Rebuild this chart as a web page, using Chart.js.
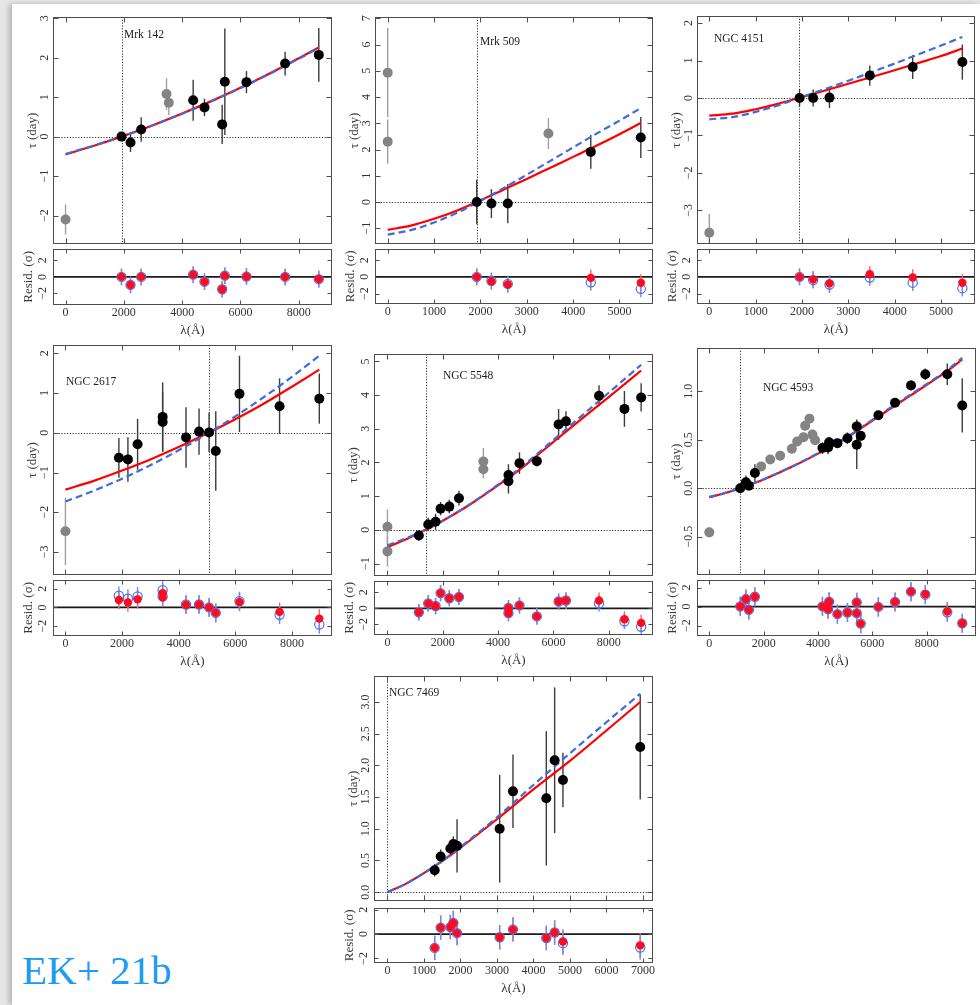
<!DOCTYPE html>
<html><head><meta charset="utf-8"><title>EK+ 21b</title>
<script src="https://cdn.jsdelivr.net/npm/chart.js@4.4.1/dist/chart.umd.min.js"></script>
<style>
html,body{margin:0;padding:0;}
body{width:980px;height:1005px;position:relative;overflow:hidden;background:#e6e6e6;}
#page{position:absolute;left:12px;top:4px;width:968px;height:1001px;background:#fff;box-shadow:-3px 0 5px rgba(0,0,0,0.22);}
canvas{position:absolute;}
#tag{position:absolute;left:22px;top:950px;font-family:"Liberation Serif",serif;font-size:41px;line-height:41px;color:#1c9bf0;white-space:nowrap;}
</style></head><body>
<div id="page"></div>
<div id="tag">EK+ 21b</div>
<script>
// ------------------------------------------------------------------ DATA
const xTicks2k = [0, 2000, 4000, 6000, 8000];
const xTicks1k5 = [0, 1000, 2000, 3000, 4000, 5000];
const xTicks1k7 = [0, 1000, 2000, 3000, 4000, 5000, 6000, 7000];
const residTicks = [-2, 0, 2];
const residErr = 1; // residuals are expressed in units of sigma

// Mrk 142
const mrk142YTicks = [-2, -1, 0, 1, 2, 3];
const mrk142Lam = [1920, 2229, 2595, 4378, 4766, 5372, 5464, 6206, 7532, 8687];
const mrk142Tau = [0.0, -0.15, 0.18, 0.92, 0.74, 0.31, 1.39, 1.38, 1.85, 2.07];
const mrk142Err = [0.1, 0.24, 0.31, 0.52, 0.22, 0.5, 1.35, 0.28, 0.3, 0.68];
const mrk142GrayLam = [0, 3463, 3543];
const mrk142GrayTau = [-2.1, 1.08, 0.86];
const mrk142GrayErr = [0.38, 0.4, 0.32];
const mrk142CurveLam = [0, 1000, 1920, 3000, 4000, 5000, 6000, 7000, 8000, 8687];
const mrk142Red  = [-0.45, -0.226, 0, 0.29, 0.584, 0.899, 1.237, 1.599, 1.983, 2.26];
const mrk142Blue = [-0.44, -0.22, 0, 0.288, 0.58, 0.893, 1.229, 1.59, 1.972, 2.25];
const mrk142ResRed  = [0.0, -0.97, 0.0, 0.27, -0.58, -1.5, 0.15, 0.04, 0.0, -0.27];
const mrk142ResBlue = [0.0, -0.97, 0.0, 0.27, -0.58, -1.5, 0.15, 0.04, 0.0, -0.27];
const mrk142Ref = 1920;

// Mrk 509
const mrk509YTicks = [-1, 0, 1, 2, 3, 4, 5, 6, 7];
const mrk509Lam = [1921, 2237, 2590, 4381, 5460];
const mrk509Tau = [0.0, -0.06, -0.06, 1.91, 2.46];
const mrk509Err = [0.85, 0.55, 0.75, 0.64, 0.78];
const mrk509GrayLam = [0, 0, 3467];
const mrk509GrayTau = [4.93, 2.3, 2.61];
const mrk509GrayErr = [1.7, 0.84, 0.59];
const mrk509CurveLam = [0, 500, 1000, 1500, 1921, 2500, 3000, 3500, 4000, 4500, 5000, 5460];
const mrk509Red  = [-1.06, -0.9, -0.64, -0.32, 0, 0.47, 0.88, 1.3, 1.72, 2.14, 2.58, 3.01];
const mrk509Blue = [-1.24, -1.07, -0.78, -0.41, -0.03, 0.53, 1.04, 1.56, 2.08, 2.6, 3.1, 3.58];
const mrk509ResRed  = [0.0, -0.54, -0.9, -0.12, -0.7];
const mrk509ResBlue = [0.0, -0.47, -0.85, -0.66, -1.44];
const mrk509Ref = 1921;

// NGC 4151
const n4151YTicks = [-3, -2, -1, 0, 1, 2];
const n4151Lam = [1947, 2241, 2593, 3463, 4389, 5460];
const n4151Tau = [0.0, 0.0, 0.01, 0.6, 0.83, 0.96];
const n4151Err = [0.24, 0.23, 0.28, 0.27, 0.32, 0.47];
const n4151GrayLam = [0];
const n4151GrayTau = [-3.6];
const n4151GrayErr = [0.5];
const n4151CurveLam = [0, 500, 1000, 1500, 1930, 2500, 3000, 3500, 4000, 4500, 5000, 5460];
const n4151Red  = [-0.47, -0.42, -0.3, -0.15, 0, 0.2, 0.38, 0.56, 0.74, 0.93, 1.12, 1.32];
const n4151Blue = [-0.57, -0.51, -0.37, -0.19, 0, 0.24, 0.46, 0.69, 0.92, 1.16, 1.4, 1.63];
const n4151ResRed  = [0.0, -0.3, -0.78, 0.31, -0.08, -0.7];
const n4151ResBlue = [0.0, -0.39, -0.93, -0.08, -0.7, -1.36];
const n4151Ref = 1930;

// NGC 2617
const n2617YTicks = [-3, -2, -1, 0, 1, 2];
const n2617Lam = [1888, 2207, 2549, 3434, 3434, 4260, 4720, 5074, 5310, 6148, 7564, 8968];
const n2617Tau = [-0.63, -0.67, -0.29, 0.4, 0.27, -0.12, 0.03, 0.01, -0.46, 0.98, 0.67, 0.86];
const n2617Err = [0.5, 0.56, 0.64, 0.87, 0.75, 0.76, 0.58, 0.5, 1.0, 0.96, 0.7, 0.63];
const n2617GrayLam = [0];
const n2617GrayTau = [-2.48];
const n2617GrayErr = [0.85];
const n2617CurveLam = [0, 1000, 2000, 3000, 4000, 5000, 6000, 7000, 8000, 8968];
const n2617Red  = [-1.43, -1.21, -0.95, -0.67, -0.36, -0.02, 0.34, 0.73, 1.16, 1.59];
const n2617Blue = [-1.73, -1.46, -1.155, -0.815, -0.44, -0.03, 0.414, 0.894, 1.408, 1.94];
const n2617ResRed  = [0.79, 0.52, 0.86, 1.52, 1.07, 0.28, 0.31, 0.0, -0.59, 0.59, -0.48, -1.2];
const n2617ResBlue = [1.24, 0.93, 1.17, 1.83, 1.17, 0.31, 0.31, 0.0, -0.59, 0.66, -0.79, -1.83];
const n2617Ref = 5074;

// NGC 5548
const n5548YTicks = [-1, 0, 1, 2, 3, 4, 5];
const n5548Lam = [1136, 1474, 1740, 1921, 2236, 2586, 4375, 4375, 4774, 5402, 6188, 6454, 7650, 8568, 9173];
const n5548Tau = [-0.17, 0.16, 0.24, 0.63, 0.69, 0.94, 1.44, 1.63, 1.98, 2.04, 3.13, 3.22, 3.98, 3.59, 3.93];
const n5548Err = [0.15, 0.2, 0.24, 0.2, 0.2, 0.22, 0.36, 0.32, 0.32, 0.15, 0.46, 0.3, 0.31, 0.53, 0.42];
const n5548GrayLam = [0, 0, 3468, 3468];
const n5548GrayTau = [0.09, -0.64, 2.03, 1.8];
const n5548GrayErr = [0.52, 0.45, 0.4, 0.27];
const n5548CurveLam = [0, 700, 1378, 2000, 3000, 4375, 5000, 6188, 7000, 8000, 9173];
const n5548Red  = [-0.51, -0.27, 0, 0.27, 0.76, 1.54, 1.93, 2.74, 3.28, 3.94, 4.73];
const n5548Blue = [-0.46, -0.24, 0, 0.27, 0.77, 1.57, 1.97, 2.8, 3.37, 4.07, 4.9];
const n5548ResRed  = [-0.48, 0.6, 0.28, 1.88, 1.24, 1.4, -0.6, 0.04, 0.36, -1.0, 0.84, 0.96, 0.96, -1.36, -1.8];
const n5548ResBlue = [-0.5, 0.6, 0.28, 1.88, 1.24, 1.4, -0.6, 0.04, 0.36, -1.0, 0.84, 0.96, 0.6, -1.6, -2.28];
const n5548Ref = 1378;

// NGC 4593
const n4593YTicks = [-0.5, 0, 0.5, 1.0];
const n4593Lam = [1139, 1348, 1458, 1678, 4165, 4373, 4410, 4716, 5084, 5427, 5427, 5574, 6223, 6836, 7424, 7950, 8759, 9310];
const n4593Tau = [0.0, 0.062, 0.025, 0.157, 0.414, 0.421, 0.475, 0.465, 0.516, 0.638, 0.448, 0.54, 0.753, 0.881, 1.061, 1.176, 1.176, 0.854];
const n4593Err = [0.02, 0.07, 0.04, 0.09, 0.06, 0.07, 0.05, 0.04, 0.06, 0.07, 0.25, 0.05, 0.04, 0.04, 0.05, 0.06, 0.11, 0.28];
const n4593GrayLam = [0, 1911, 2242, 2609, 3038, 3234, 3467, 3528, 3687, 3798, 3896];
const n4593GrayTau = [-0.456, 0.225, 0.296, 0.336, 0.407, 0.482, 0.526, 0.644, 0.716, 0.553, 0.495];
const n4593GrayErr = [0.05, 0.03, 0.04, 0.05, 0.05, 0.05, 0.05, 0.05, 0.05, 0.05, 0.05];
const n4593CurveLam = [0, 500, 1139, 2000, 3000, 4165, 5000, 6223, 7424, 8759, 9310];
const n4593Red  = [-0.094, -0.058, 0, 0.09, 0.215, 0.38, 0.51, 0.74, 0.96, 1.21, 1.33];
const n4593Blue = [-0.09, -0.055, 0.002, 0.092, 0.218, 0.385, 0.515, 0.748, 0.97, 1.22, 1.345];
const n4593ResRed  = [0.03, 0.79, -0.34, 1.03, 0.03, -0.27, 0.51, -0.79, -0.62, 0.44, -0.68, -1.78, -0.03, 0.48, 1.57, 1.3, -0.51, -1.74];
const n4593ResBlue = [0.03, 0.79, -0.34, 1.03, 0.03, -0.27, 0.51, -0.79, -0.62, 0.44, -0.68, -1.78, -0.03, 0.48, 1.57, 1.25, -0.6, -1.74];
const n4593Ref = 1139;

// NGC 7469
const n7469YTicks = [0, 0.5, 1.0, 1.5, 2.0, 2.5, 3.0];
const n7469Lam = [1296, 1460, 1725, 1807, 1908, 3076, 3441, 4354, 4582, 4810, 6927];
const n7469Tau = [0.346, 0.563, 0.687, 0.76, 0.73, 1.0, 1.59, 1.48, 2.08, 1.77, 2.29];
const n7469Err = [0.1, 0.11, 0.12, 0.12, 0.42, 0.85, 0.58, 1.06, 1.15, 0.43, 0.83];
const n7469GrayLam = [];
const n7469GrayTau = [];
const n7469GrayErr = [];
const n7469CurveLam = [0, 500, 1000, 1500, 2000, 3000, 4000, 5000, 6000, 6927];
const n7469Red  = [0, 0.13, 0.3, 0.49, 0.7, 1.15, 1.62, 2.07, 2.55, 3.0];
const n7469Blue = [0, 0.13, 0.3, 0.49, 0.71, 1.18, 1.69, 2.19, 2.68, 3.13];
const n7469ResRed  = [-1.13, 0.53, 0.58, 0.92, 0.08, -0.26, 0.39, -0.32, 0.13, -0.6, -0.92];
const n7469ResBlue = [-1.13, 0.53, 0.58, 0.92, 0.08, -0.26, 0.39, -0.32, 0.13, -0.74, -1.1];
const n7469Ref = 0;

// ------------------------------------------------------------------ LAYOUT
const panels = [
  { name:'Mrk 142', lam:mrk142Lam, tau:mrk142Tau, err:mrk142Err, gLam:mrk142GrayLam, gTau:mrk142GrayTau, gErr:mrk142GrayErr,
    cLam:mrk142CurveLam, red:mrk142Red, blue:mrk142Blue, rRed:mrk142ResRed, rBlue:mrk142ResBlue, ref:mrk142Ref,
    xt:xTicks2k, yt:mrk142YTicks, dec:0, box:{L:53,R:332,T:17,MB:247,RT:247,RB:305}, xr:[-430,9140], yr:[-2.72,3.03], rr:[-3.4,3.4], lab:[124,35] },
  { name:'Mrk 509', lam:mrk509Lam, tau:mrk509Tau, err:mrk509Err, gLam:mrk509GrayLam, gTau:mrk509GrayTau, gErr:mrk509GrayErr,
    cLam:mrk509CurveLam, red:mrk509Red, blue:mrk509Blue, rRed:mrk509ResRed, rBlue:mrk509ResBlue, ref:mrk509Ref,
    xt:xTicks1k5, yt:mrk509YTicks, dec:0, box:{L:375,R:653,T:17,MB:247,RT:247,RB:304}, xr:[-274,5723], yr:[-1.6,7.05], rr:[-3.26,3.37], lab:[480,42] },
  { name:'NGC 4151', lam:n4151Lam, tau:n4151Tau, err:n4151Err, gLam:n4151GrayLam, gTau:n4151GrayTau, gErr:n4151GrayErr,
    cLam:n4151CurveLam, red:n4151Red, blue:n4151Blue, rRed:n4151ResRed, rBlue:n4151ResBlue, ref:n4151Ref,
    xt:xTicks1k5, yt:n4151YTicks, dec:0, box:{L:697,R:975,T:16,MB:247,RT:247,RB:304}, xr:[-265,5733], yr:[-3.9,2.19], rr:[-3.26,3.37], lab:[714,39] },
  { name:'NGC 2617', lam:n2617Lam, tau:n2617Tau, err:n2617Err, gLam:n2617GrayLam, gTau:n2617GrayTau, gErr:n2617GrayErr,
    cLam:n2617CurveLam, red:n2617Red, blue:n2617Blue, rRed:n2617ResRed, rBlue:n2617ResBlue, ref:n2617Ref,
    xt:xTicks2k, yt:n2617YTicks, dec:0, box:{L:53,R:332,T:345,MB:578,RT:578,RB:636}, xr:[-439,9416], yr:[-3.58,2.21], rr:[-3.06,2.95], lab:[66,382] },
  { name:'NGC 5548', lam:n5548Lam, tau:n5548Tau, err:n5548Err, gLam:n5548GrayLam, gTau:n5548GrayTau, gErr:n5548GrayErr,
    cLam:n5548CurveLam, red:n5548Red, blue:n5548Blue, rRed:n5548ResRed, rBlue:n5548ResBlue, ref:n5548Ref,
    xt:xTicks2k, yt:n5548YTicks, dec:0, box:{L:374,R:653,T:354,MB:579,RT:579,RB:635}, xr:[-486,9601], yr:[-1.37,5.22], rr:[-3.3,3.4], lab:[443,376] },
  { name:'NGC 4593', lam:n4593Lam, tau:n4593Tau, err:n4593Err, gLam:n4593GrayLam, gTau:n4593GrayTau, gErr:n4593GrayErr,
    cLam:n4593CurveLam, red:n4593Red, blue:n4593Blue, rRed:n4593ResRed, rBlue:n4593ResBlue, ref:n4593Ref,
    xt:xTicks2k, yt:n4593YTicks, dec:1, box:{L:697,R:976,T:348,MB:578,RT:578,RB:636}, xr:[-452,9816], yr:[-0.896,1.447], rr:[-3.08,2.81], lab:[763,388] },
  { name:'NGC 7469', lam:n7469Lam, tau:n7469Tau, err:n7469Err, gLam:n7469GrayLam, gTau:n7469GrayTau, gErr:n7469GrayErr,
    cLam:n7469CurveLam, red:n7469Red, blue:n7469Blue, rRed:n7469ResRed, rBlue:n7469ResBlue, ref:n7469Ref,
    xt:xTicks1k7, yt:n7469YTicks, dec:1, box:{L:374,R:653,T:676,MB:904,RT:906,RB:963}, xr:[-367,7277], yr:[-0.14,3.41], rr:[-2.37,2.16], lab:[389,693] }
];

// ------------------------------------------------------------------ RENDERING
const FONT = '"Liberation Serif", "Times New Roman", serif';
Chart.defaults.font.family = FONT;
Chart.defaults.color = '#333';
const WY = 32, PR = 14, PT = 8, PB = 2, PT2 = 4, HX = 34, TICKFONT = 12;

function fmt(v, dec) { const s = Math.abs(v).toFixed(dec); return (v < -1e-9 ? '\u2212' : '') + s; }
function pts(xs, ys) { return xs.map((x, i) => ({ x: x, y: ys[i] })); }
const mctx = document.createElement('canvas').getContext('2d');
function widest(labels) { mctx.font = TICKFONT + 'px ' + FONT; return Math.max(...labels.map(t => mctx.measureText(t).width)); }

function makeCanvas(left, top, w, h) {
  const c = document.createElement('canvas');
  c.width = w; c.height = h;
  c.style.left = left + 'px'; c.style.top = top + 'px';
  c.style.width = w + 'px'; c.style.height = h + 'px';
  document.body.appendChild(c);
  return c;
}

function seg(ctx, x1, y1, x2, y2) { ctx.beginPath(); ctx.moveTo(x1, y1); ctx.lineTo(x2, y2); ctx.stroke(); }

const deco = {
  id: 'deco',
  beforeDatasetsDraw(chart, args, o) {
    const ctx = chart.ctx, a = chart.chartArea, xs = chart.scales.x, ys = chart.scales.y;
    ctx.save();
    ctx.beginPath(); ctx.rect(a.left, a.top, a.right - a.left, a.bottom - a.top); ctx.clip();
    if (o.zeroDotted) {
      const y = Math.round(ys.getPixelForValue(0)) + 0.5;
      ctx.strokeStyle = '#333'; ctx.lineWidth = 1; ctx.setLineDash([1.2, 1.6]);
      seg(ctx, a.left, y, a.right, y);
    }
    if (typeof o.ref === 'number') {
      const x = Math.round(xs.getPixelForValue(o.ref)) + 0.5;
      ctx.strokeStyle = '#333'; ctx.lineWidth = 1; ctx.setLineDash([1.2, 1.6]);
      seg(ctx, x, a.top, x, a.bottom);
    }
    ctx.setLineDash([]);
    if (o.zeroSolid) {
      const y = ys.getPixelForValue(0);
      ctx.strokeStyle = '#1a1a1a'; ctx.lineWidth = 1.8;
      seg(ctx, a.left, y, a.right, y);
    }
    const list = chart.data.datasets.filter(d => d.errors !== undefined).slice().sort((p, q) => p.errZ - q.errZ);
    for (const d of list) {
      ctx.strokeStyle = d.errColor; ctx.lineWidth = d.errWidth || 1.4;
      d.data.forEach((pt, k) => {
        const e = Array.isArray(d.errors) ? d.errors[k] : d.errors;
        const x = xs.getPixelForValue(pt.x);
        seg(ctx, x, ys.getPixelForValue(pt.y - e), x, ys.getPixelForValue(pt.y + e));
      });
    }
    ctx.restore();
  },
  afterDraw(chart, args, o) {
    const ctx = chart.ctx, a = chart.chartArea, xs = chart.scales.x, ys = chart.scales.y;
    ctx.save();
    ctx.strokeStyle = '#4d4d4d'; ctx.lineWidth = 1; ctx.setLineDash([]);
    const L = Math.round(a.left) + 0.5, R = Math.round(a.right) - 0.5, T = Math.round(a.top) + 0.5, B = Math.round(a.bottom) - 0.5;
    ctx.strokeRect(L, T, R - L, B - T);
    const tl = o.tl;
    ctx.beginPath();
    for (const v of o.xt) { const x = Math.round(xs.getPixelForValue(v)) + 0.5; ctx.moveTo(x, B); ctx.lineTo(x, B - tl); ctx.moveTo(x, T); ctx.lineTo(x, T + tl); }
    for (const v of o.yt) { const y = Math.round(ys.getPixelForValue(v)) + 0.5; ctx.moveTo(L, y); ctx.lineTo(L + tl, y); ctx.moveTo(R, y); ctx.lineTo(R - tl, y); }
    ctx.stroke();
    if (o.labelText) {
      ctx.fillStyle = '#222'; ctx.font = '11.5px ' + FONT; ctx.textBaseline = 'middle'; ctx.textAlign = 'left';
      ctx.fillText(o.labelText, o.labelX, o.labelY);
    }
    ctx.restore();
  }
};

function yAxis(range, ticks, dec, title, titlePad, dist) {
  const w = widest(ticks.map(v => fmt(v, dec)));
  return {
    type: 'linear', position: 'left', min: range[0], max: range[1],
    afterBuildTicks: s => { s.ticks = ticks.map(v => ({ value: v })); },
    afterFit: s => { s.width = WY; s.paddingTop = 0; s.paddingBottom = 0; },
    grid: { display: false, drawTicks: false }, border: { display: false },
    ticks: { minRotation: 90, maxRotation: 90, crossAlign: 'center', padding: dist - w / 2,
             font: { size: TICKFONT }, color: '#333', callback: v => fmt(v, dec) },
    title: { display: true, text: title, font: { size: 13 }, color: '#3a3a3a', padding: { top: titlePad, bottom: 0 } }
  };
}

function xAxis(range, ticks) {
  return {
    type: 'linear', position: 'bottom', min: range[0], max: range[1],
    afterBuildTicks: s => { s.ticks = ticks.map(v => ({ value: v })); },
    afterFit: s => { s.height = HX; s.paddingLeft = 0; s.paddingRight = 0; },
    grid: { display: false, drawTicks: false }, border: { display: false },
    ticks: { padding: 1, font: { size: TICKFONT }, color: '#333', minRotation: 0, maxRotation: 0, autoSkip: false, callback: v => String(v) },
    title: { display: true, text: 'λ(Å)', font: { size: 13 }, color: '#333', padding: { top: 0, bottom: 1 } }
  };
}

function build(p) {
  const b = p.box;
  const left = b.L - WY, w = WY + (b.R - b.L) + PR;
  const topMain = b.T - PT;
  const c1 = makeCanvas(left, topMain, w, PT + (b.MB - b.T) + PB);
  new Chart(c1, {
    type: 'scatter',
    data: { datasets: [
      { type: 'scatter', data: pts(p.lam, p.tau), errors: p.err, errColor: '#3c3c3c', errZ: 1,
        backgroundColor: '#000', borderWidth: 0, pointRadius: 5, order: 1 },
      { type: 'scatter', data: pts(p.gLam, p.gTau), errors: p.gErr, errColor: '#a0a0a0', errZ: 0,
        backgroundColor: '#848484', borderWidth: 0, pointRadius: 5, order: 2 },
      { type: 'line', data: pts(p.cLam, p.blue), borderColor: '#3d6ce0', borderWidth: 2.2, borderDash: [7, 4],
        pointRadius: 0, fill: false, cubicInterpolationMode: 'monotone', order: 3 },
      { type: 'line', data: pts(p.cLam, p.red), borderColor: '#ff0000', borderWidth: 2.2,
        pointRadius: 0, fill: false, cubicInterpolationMode: 'monotone', order: 4 }
    ] },
    options: {
      responsive: false, animation: false, devicePixelRatio: 1, events: [],
      layout: { padding: { left: 0, top: PT, right: PR, bottom: PB } },
      scales: { x: { type: 'linear', display: false, min: p.xr[0], max: p.xr[1] },
                y: yAxis(p.yr, p.yt, p.dec, 'τ (day)', 4.2, 8) },
      plugins: { legend: { display: false }, tooltip: { enabled: false },
        deco: { xt: p.xt, yt: p.yt, tl: 5, ref: p.ref, zeroDotted: true,
                labelText: p.name, labelX: p.lab[0] - left, labelY: p.lab[1] - topMain } }
    },
    plugins: [deco]
  });

  const topRes = b.RT - PT2;
  const c2 = makeCanvas(left, topRes, w, PT2 + (b.RB - b.RT) + HX);
  new Chart(c2, {
    type: 'scatter',
    data: { datasets: [
      { type: 'scatter', data: pts(p.lam, p.rRed), errors: residErr, errColor: '#ff6464', errZ: 0,
        backgroundColor: '#ff0a1e', borderWidth: 0, pointRadius: 4.2, order: 1 },
      { type: 'scatter', data: pts(p.lam, p.rBlue), errors: residErr, errColor: '#6b8df0', errZ: 1,
        backgroundColor: 'rgba(0,0,0,0)', borderColor: '#4c74e6', borderWidth: 1.2, pointRadius: 4.6, order: 2 }
    ] },
    options: {
      responsive: false, animation: false, devicePixelRatio: 1, events: [],
      layout: { padding: { left: 0, top: PT2, right: PR, bottom: 0 } },
      scales: { x: xAxis(p.xr, p.xt), y: yAxis(p.rr, residTicks, 0, 'Resid. (σ)', 0.2, 10) },
      plugins: { legend: { display: false }, tooltip: { enabled: false },
        deco: { xt: p.xt, yt: residTicks, tl: 4, zeroSolid: true } }
    },
    plugins: [deco]
  });
}

panels.forEach(build);
</script>
</body></html>
